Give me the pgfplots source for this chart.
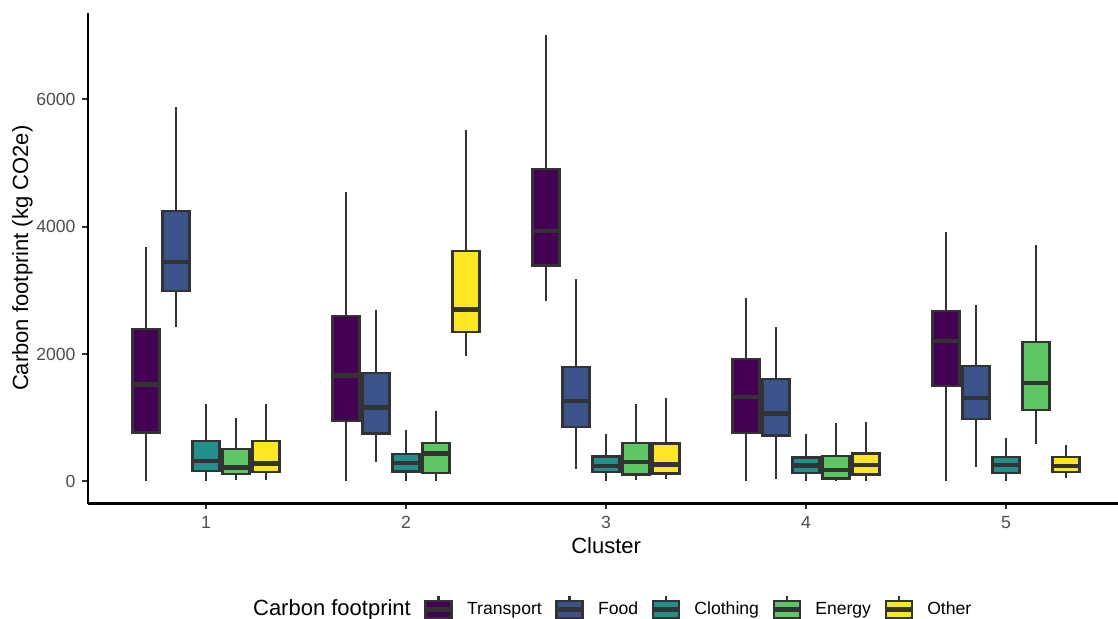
\documentclass[border=0pt]{standalone}
\usepackage{fontspec}
\setmainfont{Liberation Sans}
\usepackage{pgfplots}
\usepackage{pgfplotstable}
\usepgfplotslibrary{statistics}
\pgfplotsset{compat=1.18}

\definecolor{tp}{HTML}{440154}
\definecolor{fd}{HTML}{3B528B}
\definecolor{cl}{HTML}{21908C}
\definecolor{en}{HTML}{5DC863}
\definecolor{ot}{HTML}{FDE725}
\definecolor{g20}{HTML}{333333}
\definecolor{g30}{HTML}{4D4D4D}

% cluster, lower whisker, lower quartile, median, upper quartile, upper whisker
\pgfplotstableread{
cl lw lq med uq uw
1 0 765 1519 2393 3681
2 0 943 1660 2592 4545
3 2828 3389 3928 4912 7007
4 0 759 1320 1922 2880
5 0 1492 2204 2676 3922
}\transport
\pgfplotstableread{
cl lw lq med uq uw
1 2424 2990 3445 4242 5880
2 303 749 1158 1702 2686
3 189 853 1262 1796 3184
4 37 718 1063 1607 2424
5 225 979 1304 1807 2765
}\food
\pgfplotstableread{
cl lw lq med uq uw
1 5 162 314 628 1220
2 5 152 288 424 801
3 5 141 236 388 749
4 0 131 246 372 738
5 0 131 257 382 681
}\clothing
\pgfplotstableread{
cl lw lq med uq uw
1 16 110 215 513 1000
2 5 131 435 602 1100
3 16 105 303 602 1220
4 0 42 173 403 916
5 592 1115 1540 2189 3718
}\energy
\pgfplotstableread{
cl lw lq med uq uw
1 16 141 278 633 1220
2 1969 2346 2697 3624 5525
3 31 121 262 592 1315
4 5 105 251 435 927
5 47 141 241 382 571
}\other

\pgfplotsset{
  boxplot/draw direction=y,
  boxplot/every median/.style={line width=2.13pt},
  boxplot/draw/lower whisker/.code={%
    \draw[line width=1.07pt, g20]
      (boxplot cs:\pgfplotsboxplotvalue{lower quartile}) --
      (boxplot cs:\pgfplotsboxplotvalue{lower whisker});},
  boxplot/draw/upper whisker/.code={%
    \draw[line width=1.07pt, g20]
      (boxplot cs:\pgfplotsboxplotvalue{upper quartile}) --
      (boxplot cs:\pgfplotsboxplotvalue{upper whisker});},
  keyimg/.style={legend image code/.code={
    \draw[g20, line width=1.07pt] (6.5pt,-6.9pt) -- (6.5pt,6.9pt);
    \draw[g20, line width=1.07pt, fill=#1] (0pt,-4.3pt) rectangle (13pt,4.3pt);
    \draw[g20, line width=2.13pt] (0pt,0pt) -- (13pt,0pt);
  }},
}

\newcommand{\boxseries}[3]{%
  \pgfplotsinvokeforeach{0,...,4}{%
    \pgfplotstablegetelem{##1}{lw}\of{#1}\let\vlw\pgfplotsretval
    \pgfplotstablegetelem{##1}{lq}\of{#1}\let\vlq\pgfplotsretval
    \pgfplotstablegetelem{##1}{med}\of{#1}\let\vmed\pgfplotsretval
    \pgfplotstablegetelem{##1}{uq}\of{#1}\let\vuq\pgfplotsretval
    \pgfplotstablegetelem{##1}{uw}\of{#1}\let\vuw\pgfplotsretval
    \pgfmathsetmacro\vpos{##1+1+(#2)}%
    \edef\doplot{\noexpand\addplot[forget plot, draw=g20, line width=1.07pt,
      boxplot/every box/.style={fill=#3},
      boxplot prepared={draw direction=y, draw position=\vpos,
        lower whisker=\vlw, lower quartile=\vlq, median=\vmed,
        upper quartile=\vuq, upper whisker=\vuw,
        box extend=0.135, whisker extend=0.001}
    ] coordinates {};}%
    \doplot
  }%
}

\begin{document}
\begin{tikzpicture}
\useasboundingbox (-44pt,-57.25pt) rectangle (515pt,251.75pt);
\begin{axis}[
  at={(0,0)}, anchor=south west,
  width=515pt, height=245.25pt, scale only axis,
  xmin=0.41, xmax=5.56, ymin=-350, ymax=7357,
  axis x line*=bottom, axis y line*=left,
  axis line style={line width=1.07pt, black, -},
  xtick={1,2,3,4,5}, ytick={0,2000,4000,6000},
  tick align=outside, major tick length=2.75pt,
  tick style={g20, line width=1.07pt},
  ticklabel style={font=\fontsize{8.8}{10}\selectfont, text=g30},
  /pgf/number format/assume math mode=true,
  /pgf/number format/1000 sep={},
  xlabel={Cluster}, ylabel={Carbon footprint (kg CO2e)},
  label style={font=\fontsize{11}{13}\selectfont},
  xlabel style={at={(axis description cs:0.503,-0.0867)}, anchor=center},
  ylabel style={at={(axis description cs:-0.0636,0.5)}, anchor=center},
  legend columns=-1,
  legend cell align=left,
  legend style={at={(axis description cs:0.5024,-0.216)}, anchor=center,
    draw=none, fill=none, inner sep=0pt,
    font=\fontsize{8.8}{10}\selectfont,
    nodes={inner sep=0pt},
    /tikz/every odd column/.append style={column sep=6.75pt},
    /tikz/every even column/.append style={column sep=6.25pt}},
]
\boxseries{\transport}{-0.3}{tp}
\boxseries{\food}{-0.15}{fd}
\boxseries{\clothing}{0}{cl}
\boxseries{\energy}{0.15}{en}
\boxseries{\other}{0.3}{ot}

\addlegendimage{empty legend}
\addlegendentry{\fontsize{11}{13}\selectfont Carbon footprint}
\addlegendimage{keyimg={tp}}
\addlegendentry{Transport}
\addlegendimage{keyimg={fd}}
\addlegendentry{Food}
\addlegendimage{keyimg={cl}}
\addlegendentry{Clothing}
\addlegendimage{keyimg={en}}
\addlegendentry{Energy}
\addlegendimage{keyimg={ot}}
\addlegendentry{Other}
\end{axis}
\end{tikzpicture}
\end{document}
